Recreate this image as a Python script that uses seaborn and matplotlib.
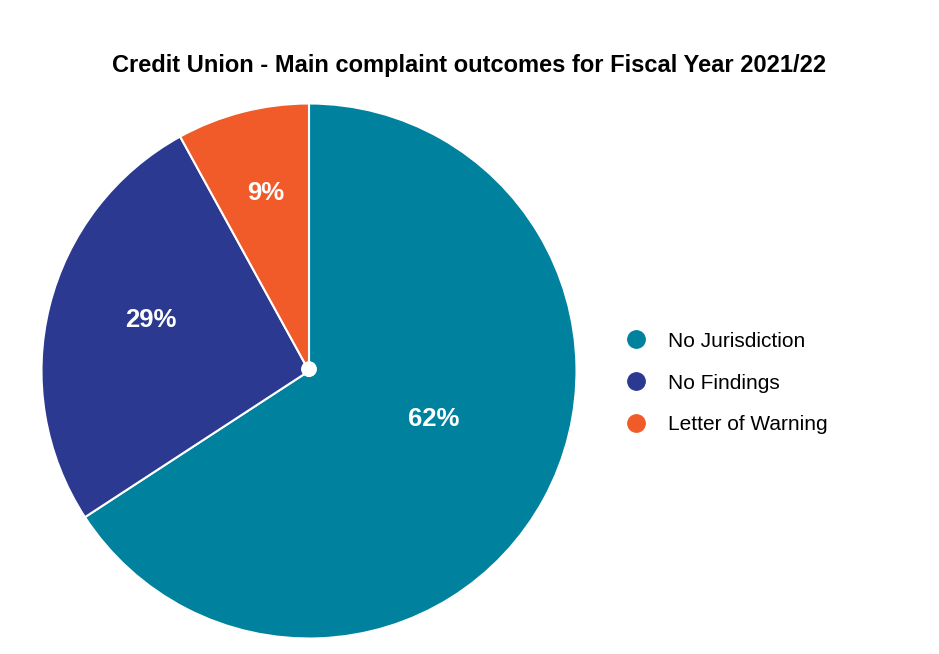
import matplotlib
matplotlib.use("Agg")
import matplotlib.pyplot as plt
from matplotlib.lines import Line2D
import numpy as np
import seaborn as sns

# data
outcomes = ["No Jurisdiction", "No Findings", "Letter of Warning"]
shares = [65.8, 26.2, 8.0]          # slice sizes as drawn
pct_labels = ["62%", "29%", "9%"]   # percentages printed on the slices
colors = ["#00819e", "#2b3990", "#f15a29"]

sns.set_theme(style="white")
plt.rcParams["font.family"] = ["Liberation Sans", "DejaVu Sans"]
plt.rcParams["text.color"] = "black"

fig = plt.figure(figsize=(9.39, 6.54), dpi=100)
# pie centre at (309, 371) px, radius 267.5 px
ax = fig.add_axes([(309 - 267.5) / 939, (654 - 371 - 267.5) / 654,
                   535 / 939, 535 / 654])

wedges, _ = ax.pie(shares, colors=colors, startangle=90, counterclock=False,
                   wedgeprops=dict(edgecolor="white", linewidth=1.5))
ax.set_xlim(-1, 1)
ax.set_ylim(-1, 1)
ax.set_aspect("equal")
ax.axis("off")

# label placement (radius fraction, angle shift in degrees)
placement = [(0.50, 7.5), (0.62, -4.0), (0.685, -0.8)]
for w, txt, (r, shift) in zip(wedges, pct_labels, placement):
    ang = np.deg2rad((w.theta1 + w.theta2) / 2 + shift)
    ax.text(r * np.cos(ang), r * np.sin(ang), txt, color="white",
            fontsize=18.5, fontweight="bold", ha="center", va="center")

# small white dot at the centre
ax.add_patch(plt.Circle((0, 0.007), 0.027, color="white", zorder=5))

fig.text(0.5, 1 - 72.3 / 654,
         "Credit Union - Main complaint outcomes for Fiscal Year 2021/22",
         ha="center", va="baseline", fontsize=17, fontweight="bold",
         color="black")

handles = [Line2D([0], [0], marker="o", linestyle="none", markersize=12.5,
                  markerfacecolor=c, markeredgecolor=c) for c in colors]
fig.legend(handles, outcomes, loc="center left",
           bbox_to_anchor=(625.6 / 939, 1 - 383 / 654), frameon=False,
           fontsize=15, handlelength=1.0, handletextpad=1.04,
           labelspacing=1.1, borderpad=0, borderaxespad=0,
           labelcolor="black")

fig.savefig("out.png", dpi=100, facecolor="white")
